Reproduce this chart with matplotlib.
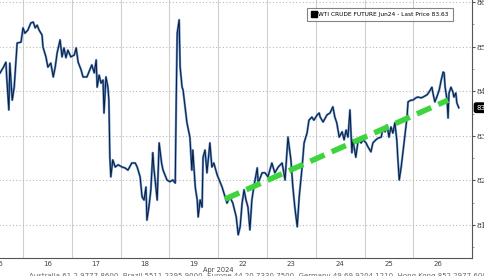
import matplotlib
matplotlib.use("Agg")
import matplotlib.pyplot as plt
from matplotlib.lines import Line2D

# time in trading-day units (1 unit = one session), price in USD/bbl
t = [0.53, 0.60, 0.65, 0.67, 0.71, 0.73, 0.78, 0.82, 0.86, 0.88, 0.96, 1.00, 1.04, 1.10,
     1.16, 1.21, 1.25, 1.29, 1.33, 1.39, 1.41, 1.47, 1.51, 1.57, 1.62, 1.66, 1.70, 1.76,
     1.80, 1.84, 1.88, 1.92, 1.98, 2.05, 2.09, 2.13, 2.19, 2.23, 2.31, 2.35, 2.41, 2.46,
     2.50, 2.52, 2.56, 2.60, 2.64, 2.66, 2.70, 2.74, 2.76, 2.78, 2.80, 2.84, 2.89, 2.95,
     3.03, 3.09, 3.15, 3.23, 3.30, 3.34, 3.40, 3.44, 3.48, 3.52, 3.54, 3.58, 3.62, 3.66,
     3.68, 3.75, 3.79, 3.84, 3.87, 3.95, 4.01, 4.07, 4.12, 4.14, 4.16, 4.20, 4.22, 4.26,
     4.28, 4.32, 4.36, 4.42, 4.46, 4.48, 4.53, 4.57, 4.59, 4.63, 4.67, 4.69, 4.73, 4.77,
     4.83, 4.87, 4.91, 4.98, 5.02, 5.08, 5.14, 5.18, 5.24, 5.30, 5.37, 5.41, 5.45, 5.49,
     5.53, 5.57, 5.61, 5.65, 5.69, 5.73, 5.80, 5.82, 5.90, 5.96, 6.02, 6.10, 6.16, 6.23,
     6.31, 6.37, 6.43, 6.49, 6.53, 6.57, 6.62, 6.66, 6.72, 6.76, 6.82, 6.86, 6.92, 6.96,
     7.03, 7.07, 7.09, 7.15, 7.23, 7.29, 7.35, 7.39, 7.43, 7.48, 7.54, 7.58, 7.62, 7.66,
     7.70, 7.74, 7.76, 7.82, 7.87, 7.93, 7.97, 8.03, 8.07, 8.13, 8.17, 8.23, 8.28, 8.34,
     8.38, 8.42, 8.46, 8.50, 8.54, 8.58, 8.62, 8.66, 8.68, 8.71, 8.75, 8.79, 8.83, 8.87,
     8.89, 8.95, 8.99, 9.05, 9.09, 9.16, 9.20, 9.28, 9.32, 9.38, 9.40, 9.44, 9.48, 9.53,
     9.57, 9.61, 9.63, 9.65, 9.69, 9.71, 9.73, 9.77, 9.81, 9.83, 9.87, 9.89, 9.93]
price = [84.41, 84.54, 84.65, 84.25, 83.58, 84.63, 83.80, 84.09, 84.77, 85.08, 85.10, 85.42, 85.30, 85.37,
         85.53, 85.55, 85.42, 85.48, 85.37, 85.26, 84.99, 84.77, 84.54, 84.63, 84.32, 84.54, 84.86, 85.15,
         84.77, 84.97, 84.75, 84.92, 84.77, 84.81, 84.97, 84.65, 84.48, 84.32, 84.32, 84.43, 84.59, 84.41,
         84.70, 84.09, 84.36, 84.18, 84.25, 83.51, 84.32, 84.09, 83.80, 82.52, 82.08, 82.46, 82.30, 82.35,
         82.30, 82.28, 82.23, 82.39, 82.39, 82.30, 82.08, 81.63, 81.56, 81.85, 81.11, 81.40, 81.79, 82.62,
         82.30, 81.56, 82.84, 82.39, 82.23, 82.01, 81.97, 82.01, 81.94, 83.80, 85.30, 85.60, 84.54, 84.09,
         84.03, 83.65, 83.29, 82.97, 82.23, 82.68, 81.85, 81.56, 81.18, 81.56, 81.40, 82.52, 82.68, 82.17,
         82.84, 82.30, 82.39, 82.12, 82.01, 81.85, 81.63, 81.49, 81.63, 81.49, 81.18, 80.78, 80.96, 81.49,
         81.79, 81.56, 81.40, 80.89, 81.56, 81.85, 82.28, 81.94, 82.17, 82.17, 82.08, 82.39, 82.17, 82.30,
         82.39, 82.01, 82.97, 82.46, 81.85, 81.40, 80.96, 81.63, 82.30, 82.84, 83.06, 83.35, 83.42, 83.35,
         83.47, 83.51, 83.42, 83.31, 83.47, 83.51, 83.65, 83.42, 83.29, 82.97, 83.09, 82.91, 83.13, 82.97,
         83.58, 82.62, 82.91, 82.52, 82.91, 82.84, 82.91, 82.84, 82.75, 82.64, 82.84, 82.91, 82.95, 82.97,
         83.18, 83.09, 83.24, 82.97, 83.20, 83.06, 83.29, 82.91, 82.52, 82.01, 82.30, 82.68, 83.06, 83.42,
         83.76, 83.80, 83.80, 83.85, 83.87, 83.85, 83.87, 83.92, 83.98, 84.09, 83.96, 83.76, 83.87, 84.03,
         84.25, 84.43, 84.41, 84.09, 83.80, 83.40, 83.96, 84.09, 83.98, 83.87, 83.96, 83.74, 83.63]

trend_t = [5.14, 9.71]
trend_price = [81.58, 83.80]

day_labels = ["15", "16", "17", "18", "19", "22", "23", "24", "25", "26"]
yticks = [81, 82, 83, 84, 85, 86]
last_price = 83.63
series_name = "WTI CRUDE FUTURE Jun24 - Last Price 83.63"

fig = plt.figure(figsize=(4.85, 2.76), dpi=100)
ax = fig.add_axes([-0.0029, 0.0652, 0.976, 0.9348])
ax.set_xlim(0.5, 10.2)
ax.set_ylim(80.26, 86.045)

# grid
for g in range(1, 10):
    ax.axvline(g, color="#d0d0d0", lw=0.8, zorder=0)
for y in yticks:
    ax.axhline(y, color="#b8b8b8", lw=0.8, ls=(0, (1, 2)), zorder=0)

# price line: blue edge with dark core
ax.plot(t, price, color="#5a8ccc", lw=1.6, zorder=2, solid_joinstyle="round")
ax.plot(t, price, color="#0d1a33", lw=0.7, zorder=3, solid_joinstyle="round")

# trend line
ax.plot(trend_t, trend_price, color="#3ed43e", lw=4.0, ls=(0, (2.8, 1.4)),
        solid_capstyle="butt", zorder=4)

# spines
for s in ["left", "top"]:
    ax.spines[s].set_visible(False)
ax.spines["right"].set_color("#555555")
ax.spines["bottom"].set_color("#555555")
ax.spines["right"].set_linewidth(0.8)
ax.spines["bottom"].set_linewidth(0.8)

ax.yaxis.tick_right()
ax.set_yticks(yticks)
ax.set_yticklabels([f"{v:.2f}" for v in yticks], fontsize=5.5, color="#333333",
                   family="DejaVu Serif")
ax.set_yticks([v + 0.5 for v in [80] + yticks[:-1]], minor=True)
ax.tick_params(axis="y", which="major", length=2.5, width=0.8, color="#555555", pad=1)
ax.tick_params(axis="y", which="minor", length=1.5, width=0.6, color="#888888")

ax.set_xticks([i + 0.5 for i in range(len(day_labels))])
ax.set_xticklabels(day_labels, fontsize=5, color="#444444")
ax.tick_params(axis="x", length=0, pad=2)

ax.text(5.0, -0.033, "Apr 2024", transform=ax.get_xaxis_transform(),
        ha="center", va="top", fontsize=4.8, color="#444444", clip_on=False)

# last price marker
ax.annotate(f"{last_price:.2f}", xy=(1.0, last_price),
            xycoords=ax.get_yaxis_transform(), xytext=(3, 0),
            textcoords="offset points", ha="left", va="center",
            fontsize=5, color="white", annotation_clip=False,
            bbox=dict(boxstyle="round,pad=0.25", fc="black", ec="black"))

# legend
handle = Line2D([], [], color="black", marker="s", ls="none", markersize=4)
leg = ax.legend([handle], [series_name], loc="upper left",
                bbox_to_anchor=(0.652, 0.969), fontsize=4.2, frameon=True,
                fancybox=False, handlelength=0.8, handletextpad=0.4,
                borderpad=0.7, borderaxespad=0)
leg.get_frame().set_edgecolor("#666666")
leg.get_frame().set_linewidth(0.8)

# footer (cut off at the bottom, like the source screenshot)
fig.text(0.06, -0.009, "Australia 61 2 9777 8600  Brazil 5511 2395 9000  Europe 44 20 7330 7500  "
         "Germany 49 69 9204 1210  Hong Kong 852 2977 6000",
         fontsize=5, color="#666666", ha="left", va="baseline")

fig.savefig("out.png", dpi=100)
